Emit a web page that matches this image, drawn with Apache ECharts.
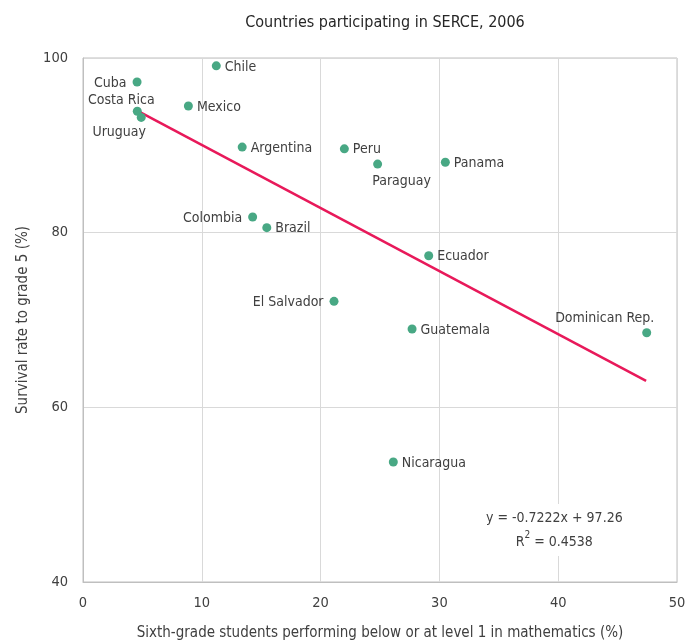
<!DOCTYPE html>
<html><head><meta charset="utf-8">
<script src="https://cdn.jsdelivr.net/npm/echarts@6/dist/echarts.min.js"></script>
<style>html,body{margin:0;padding:0;background:#fff}#c{width:698px;height:642px}</style>
</head><body><div id="c"></div>
<script>
const countries = ["Cuba","Costa Rica","Uruguay","Chile","Mexico","Argentina","Peru","Paraguay","Panama","Colombia","Brazil","Ecuador","El Salvador","Guatemala","Dominican Rep.","Nicaragua"];
const belowLevel1 = [4.55,4.57,4.9,11.22,8.87,13.4,22.0,24.8,30.5,14.28,15.47,29.1,21.13,27.7,47.45,26.12];
const survivalRate = [97.25,93.9,93.2,99.1,94.5,89.8,89.6,87.85,88.06,81.8,80.57,77.36,72.14,68.97,68.54,53.74];
const trendX = [4.6,47.4];
const trendY = [93.94,63.03];
const xTicks = [0,10,20,30,40,50];
const yTicks = [40,60,80,100];
const equationText = "y = -0.7222x + 97.26";
const r2Text = "0.4538";

const FONT = '"Liberation Sans Narrow","DejaVu Sans Condensed","Roboto",sans-serif';
const TXT = '#404040';
const labelStyle = {
  "Cuba": {position:'left', distance:6, offset:[0,1]},
  "Costa Rica": {position:'top', offset:[-16,5], distance:4},
  "Uruguay": {position:'bottom', offset:[-22,-1], distance:4},
  "Paraguay": {position:'bottom', offset:[24,2], distance:4},
  "Colombia": {position:'left', distance:6, offset:[0,1]},
  "El Salvador": {position:'left', distance:6, offset:[0,1]},
  "Dominican Rep.": {position:'top', offset:[-42,3], distance:6}
};
const points = countries.map((n,i)=>({
  name:n, value:[belowLevel1[i], survivalRate[i]],
  label: Object.assign({show:true}, labelStyle[n] || {position:'right', distance:4, offset:[0,1]})
}));

const chart = echarts.init(document.getElementById('c'), null, {renderer:'canvas'});
chart.setOption({
  animation:false,
  textStyle:{fontFamily:FONT},
  title:{text:'Countries participating in SERCE, 2006', left:380, textAlign:'center', top:10,
    textStyle:{fontFamily:FONT, fontSize:16, fontWeight:'normal', color:'#262626'}},
  grid:{left:83, right:21, top:58, bottom:60, containLabel:false, outerBoundsMode:'none',
    show:true, borderColor:'#bfbfbf', borderWidth:1},
  xAxis:{type:'value', min:xTicks[0], max:xTicks[xTicks.length-1], interval:10,
    name:'Sixth-grade students performing below or at level 1 in mathematics (%)',
    nameLocation:'middle', nameGap:44,
    nameTextStyle:{fontFamily:FONT, fontSize:15, color:TXT},
    axisLine:{show:true, lineStyle:{color:'#bfbfbf'}}, axisTick:{show:false},
    axisLabel:{fontFamily:FONT, fontSize:14.5, color:TXT, margin:14},
    splitLine:{show:true, lineStyle:{color:'#d9d9d9'}}},
  yAxis:{type:'value', min:yTicks[0], max:yTicks[yTicks.length-1], interval:20,
    name:'Survival rate to grade 5 (%)', nameLocation:'middle', nameGap:52, nameRotate:90,
    nameTextStyle:{fontFamily:FONT, fontSize:15, color:TXT},
    axisLine:{show:true, lineStyle:{color:'#bfbfbf'}}, axisTick:{show:false},
    axisLabel:{fontFamily:FONT, fontSize:14.5, color:TXT, margin:15},
    splitLine:{show:true, lineStyle:{color:'#d9d9d9'}}},
  series:[
    {type:'line', data:trendX.map((x,i)=>[x,trendY[i]]), showSymbol:false, symbol:'none',
     lineStyle:{color:'#e8195a', width:2.5}, z:3, silent:true},
    {type:'scatter', data:points, symbolSize:9, itemStyle:{color:'#48a884', opacity:1}, z:4,
     label:{show:true, formatter:'{b}', fontFamily:FONT, fontSize:14, color:TXT, opacity:1}}
  ],
  graphic:[{type:'text', left:482, top:504, z:10,
    style:{text:'{a|'+equationText+'}\n{a|R}{s|2}{a| = '+r2Text+'}', textAlign:'center',
      fontFamily:FONT, fill:TXT, backgroundColor:'#fff', padding:[2,4],
      rich:{a:{fontFamily:FONT, fontSize:14, fill:TXT, lineHeight:24, align:'center'},
            s:{fontFamily:FONT, fontSize:10, fill:TXT, verticalAlign:'top', lineHeight:24}}}}]
});
</script></body></html>
